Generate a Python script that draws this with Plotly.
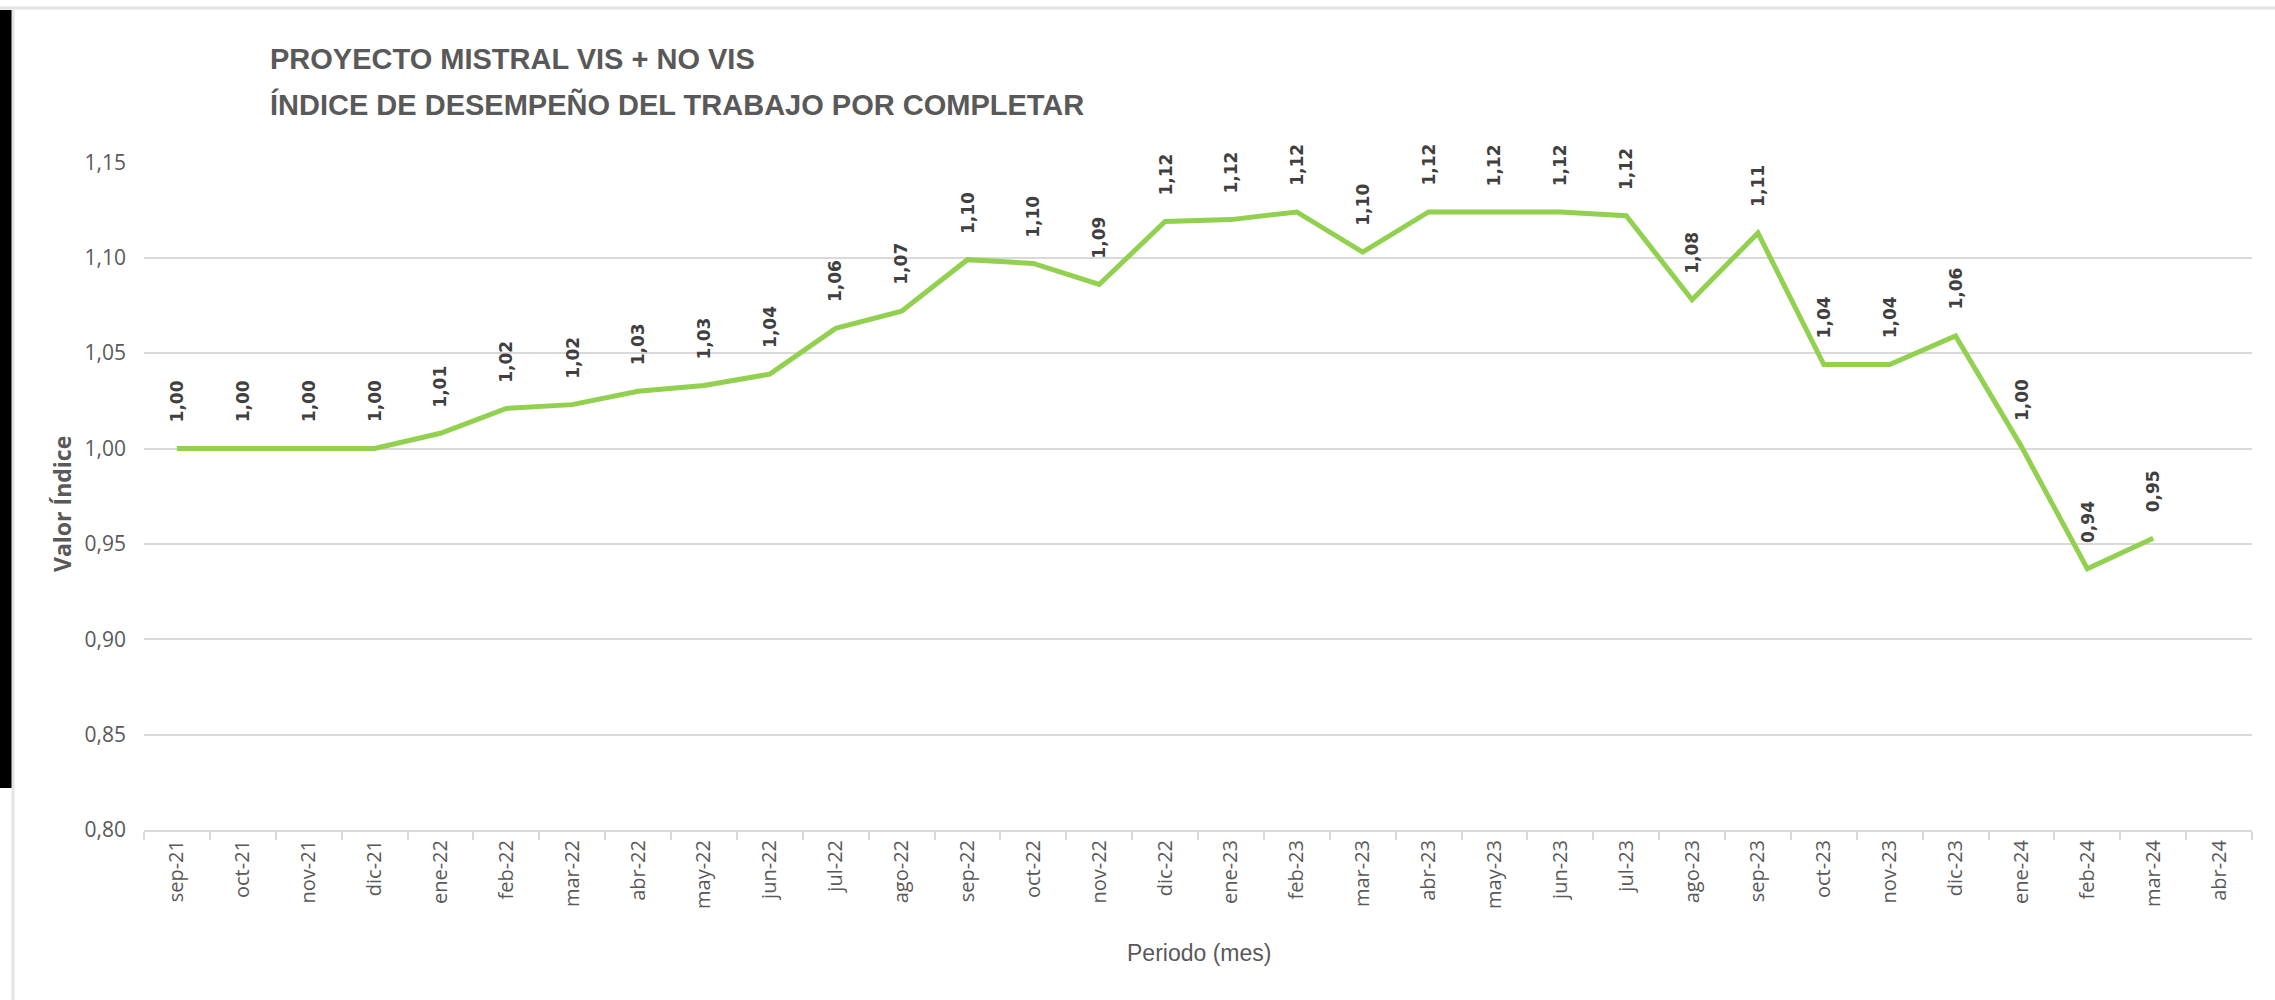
import plotly.graph_objects as go

# ---------------- data ----------------
periodos = ["sep-21", "oct-21", "nov-21", "dic-21", "ene-22", "feb-22", "mar-22", "abr-22",
            "may-22", "jun-22", "jul-22", "ago-22", "sep-22", "oct-22", "nov-22", "dic-22",
            "ene-23", "feb-23", "mar-23", "abr-23", "may-23", "jun-23", "jul-23", "ago-23",
            "sep-23", "oct-23", "nov-23", "dic-23", "ene-24", "feb-24", "mar-24", "abr-24"]
valor_indice = [1.000, 1.000, 1.000, 1.000, 1.008, 1.021, 1.023, 1.030,
                1.033, 1.039, 1.063, 1.072, 1.099, 1.097, 1.086, 1.119,
                1.120, 1.124, 1.103, 1.124, 1.124, 1.124, 1.122, 1.078,
                1.113, 1.044, 1.044, 1.059, 1.001, 0.937, 0.953, None]
y_ticks = [0.80, 0.85, 0.90, 0.95, 1.00, 1.05, 1.10, 1.15]

titulo_1 = "PROYECTO MISTRAL VIS + NO VIS"
titulo_2 = "ÍNDICE DE DESEMPEÑO DEL TRABAJO POR COMPLETAR"
titulo_y = "Valor Índice"
titulo_x = "Periodo (mes)"

# ---------------- layout geometry ----------------
W, H = 2275, 1000
ML, MR, MT, MB = 144, 23, 162, 170
PW, PH = W - ML - MR, H - MT - MB


def px_x(px):
    return (px - ML) / PW


def px_y(py):
    return (H - MB - py) / PH


GRAY_TXT = "#595959"
GRID = "#d9d9d9"
GREEN = "#92D050"
TITLE_FONT = "Liberation Sans, Arial, sans-serif"

fig = go.Figure()
fig.add_trace(go.Scatter(
    x=periodos, y=valor_indice, mode="lines",
    line=dict(color=GREEN, width=5), connectgaps=False,
    hoverinfo="x+y", showlegend=False,
))

annotations = []
for cat, v in zip(periodos, valor_indice):
    if v is None:
        continue
    annotations.append(dict(
        x=cat, y=v, xref="x", yref="y", text=f"{v:.2f}".replace(".", ","),
        textangle=-90, showarrow=False, xanchor="center", yanchor="bottom", yshift=24,
        font=dict(family="DejaVu Sans", size=17, color="#404040", weight="bold"),
    ))

annotations += [
    dict(xref="paper", yref="paper", x=px_x(268), y=px_y(59), xanchor="left", yanchor="middle",
         text=titulo_1, showarrow=False,
         font=dict(family=TITLE_FONT, size=29, color=GRAY_TXT, weight="bold")),
    dict(xref="paper", yref="paper", x=px_x(268), y=px_y(104), xanchor="left", yanchor="middle",
         text=titulo_2, showarrow=False,
         font=dict(family=TITLE_FONT, size=29, color=GRAY_TXT, weight="bold")),
    dict(xref="paper", yref="paper", x=px_x(62), y=px_y(504), xanchor="center", yanchor="middle",
         text=titulo_y, textangle=-90, showarrow=False,
         font=dict(family="Open Sans", size=23, color=GRAY_TXT, weight="bold")),
    dict(xref="paper", yref="paper", x=px_x(1199), y=px_y(953), xanchor="center", yanchor="middle",
         text=titulo_x, showarrow=False,
         font=dict(family=TITLE_FONT, size=23, color=GRAY_TXT)),
]

shapes = [
    # black side bar
    dict(type="rect", xref="paper", yref="paper", x0=px_x(0), x1=px_x(12), y0=px_y(788), y1=px_y(10),
         fillcolor="black", line=dict(width=0), layer="above"),
    # thin frame lines
    dict(type="line", xref="paper", yref="paper", x0=px_x(0), x1=px_x(W), y0=px_y(8), y1=px_y(8),
         line=dict(color="#e3e3e3", width=3)),
    dict(type="line", xref="paper", yref="paper", x0=px_x(13), x1=px_x(13), y0=px_y(10), y1=px_y(H),
         line=dict(color="#e3e3e3", width=3)),
]

fig.update_layout(
    width=W, height=H,
    margin=dict(l=ML, r=MR, t=MT, b=MB, autoexpand=False),
    paper_bgcolor="white", plot_bgcolor="white",
    separators=",.",
    annotations=annotations, shapes=shapes,
    font=dict(family="Open Sans", color=GRAY_TXT),
)
fig.update_xaxes(
    type="category", categoryorder="array", categoryarray=periodos,
    range=[-0.5, len(periodos) - 0.5],
    showgrid=False, showline=True, linecolor=GRID, linewidth=2,
    ticks="outside", tickson="boundaries", ticklen=8, tickwidth=2, tickcolor=GRID,
    tickangle=-90, tickfont=dict(family="Open Sans", size=20, color=GRAY_TXT),
    automargin=False,
)
fig.update_yaxes(
    range=[0.80, 1.1502], tickmode="array", tickvals=y_ticks, tickformat=".2f",
    showgrid=True, gridcolor=GRID, gridwidth=2, zeroline=False, showline=False,
    ticks="", ticklabelstandoff=17,
    tickfont=dict(family="Open Sans", size=21, color=GRAY_TXT),
    automargin=False,
)

fig.write_html(
    "out.html",
    config={"displayModeBar": False},
    post_script="document.body.style.margin='0';document.body.style.padding='0';"
                "document.body.style.overflow='hidden';",
)
